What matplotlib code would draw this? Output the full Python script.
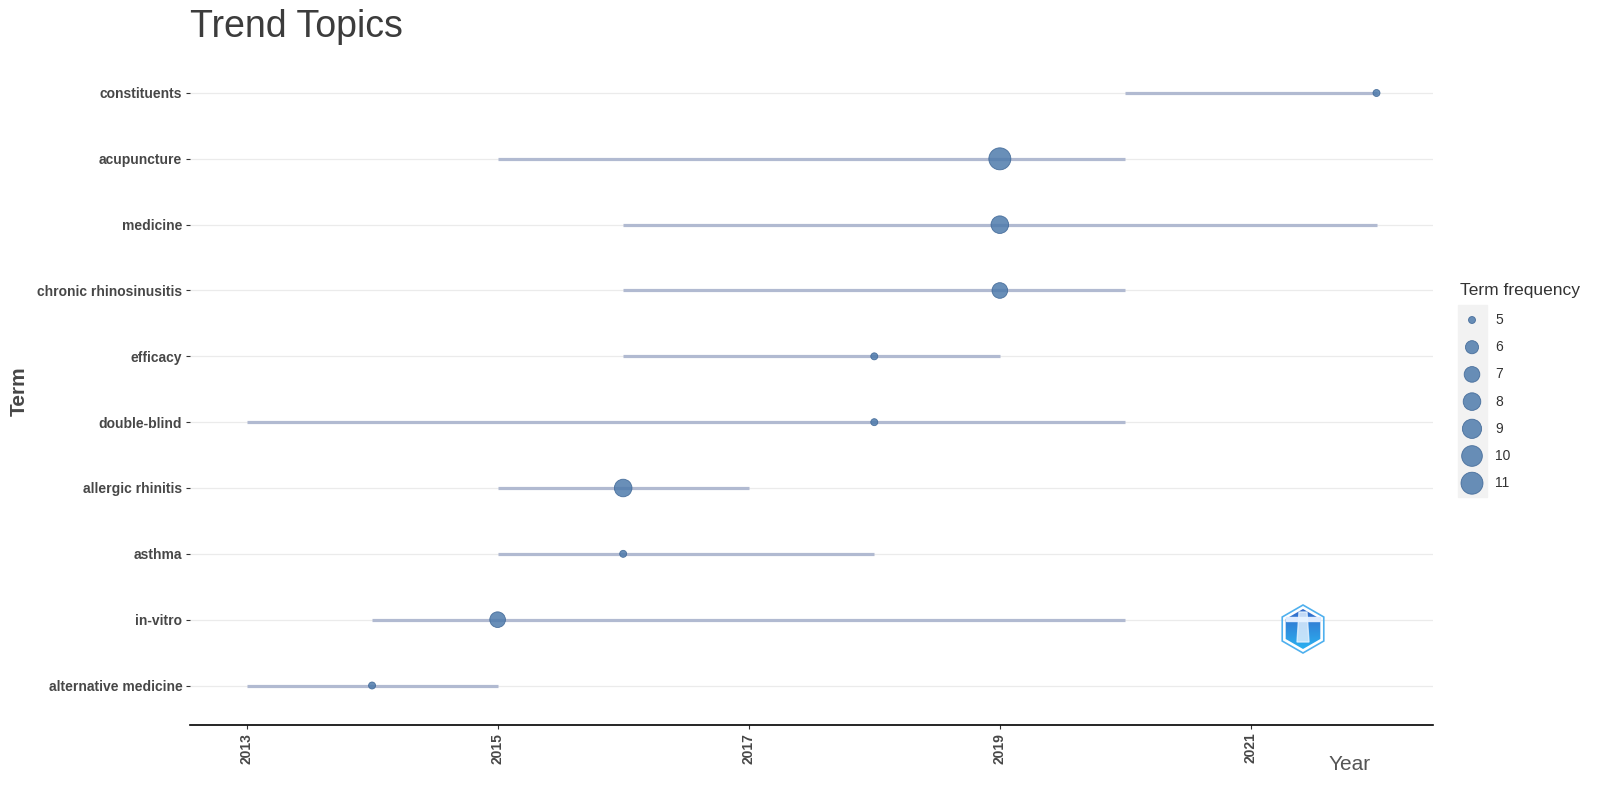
import matplotlib.pyplot as plt
import matplotlib.patches as pt
import numpy as np

plt.rcParams["font.family"] = ["Liberation Sans", "DejaVu Sans"]

# data
terms = ["alternative medicine", "in-vitro", "asthma", "allergic rhinitis",
         "double-blind", "efficacy", "chronic rhinosinusitis", "medicine",
         "acupuncture", "constituents"]
year_q1 = [2013, 2014, 2015, 2015, 2013, 2016, 2016, 2016, 2015, 2020]
year_med = [2014, 2015, 2016, 2016, 2018, 2018, 2019, 2019, 2019, 2022]
year_q3 = [2015, 2020, 2018, 2017, 2020, 2019, 2020, 2022, 2020, 2022]
freq = [5, 7, 5, 8, 5, 5, 7, 8, 11, 5]
legend_vals = [5, 6, 7, 8, 9, 10, 11]
xticks = [2013, 2015, 2017, 2019, 2021]

DPI = 100
LINE_COL = "#B1BAD1"
PT_COL = "#4F7BAC"
PT_EDGE = "#3B6494"
TXT = "#474747"


def size_pts(v):
    # ggplot-like area scale: diameter 7..22 px for freq 5..11
    d_px = 7 + np.sqrt((np.asarray(v, float) - 5) / 6.0) * 15
    return (d_px * 72.0 / DPI) ** 2


fig = plt.figure(figsize=(16, 8), dpi=DPI)
ax = fig.add_axes([190 / 1600, 75 / 800, (1433 - 190) / 1600, (746.5 - 75) / 800])

y = np.arange(len(terms))
for yy in y:
    ax.axhline(yy, color="#EBEBEB", lw=0.9, zorder=0)
ax.hlines(y, year_q1, year_q3, color=LINE_COL, lw=2.3, zorder=2)
ax.scatter(year_med, y, s=size_pts(freq), color=PT_COL, alpha=0.85,
           edgecolor=PT_EDGE, linewidth=0.6, zorder=3)

ax.set_xlim(2012.55, 2022.45)
ax.set_ylim(-0.6, len(terms) - 0.4)
ax.set_yticks(y)
ax.set_yticklabels(terms, fontsize=10, fontweight="bold", color=TXT)
ax.set_xticks(xticks)
ax.set_xticklabels([str(t) for t in xticks], rotation=90, fontsize=10,
                   fontweight="bold", color=TXT)
ax.tick_params(axis="both", length=3, width=0.8, color="#333333", pad=2.5)
for s in ["top", "right", "left"]:
    ax.spines[s].set_visible(False)
ax.spines["bottom"].set_color("black")
ax.spines["bottom"].set_linewidth(1.2)

fig.text(190 / 1600, 1 - 37 / 800, "Trend Topics", fontsize=27, color="#3C3C3C",
         ha="left", va="baseline")
fig.text(19 / 1600, 1 - 391 / 800, "Term", fontsize=15, fontweight="bold",
         color=TXT, rotation=90, ha="center", va="center")
fig.text(1350 / 1600, 1 - 764 / 800, "Year", fontsize=15, color="#555555",
         ha="center", va="center")

# legend drawn in its own pixel-space axes
lax = fig.add_axes([0, 0, 1, 1], facecolor="none")
lax.set_xlim(0, 1600)
lax.set_ylim(800, 0)
lax.axis("off")
lax.add_patch(pt.Rectangle((1458, 305), 29, 192, color="#F2F2F2", zorder=0))
lax.text(1460, 291, "Term frequency", fontsize=12.5, color="#333333",
         ha="left", va="center")
leg_y = 320 + np.arange(len(legend_vals)) * 27.2
lax.scatter([1472] * len(legend_vals), leg_y, s=size_pts(legend_vals),
            color=PT_COL, alpha=0.85, edgecolor=PT_EDGE, linewidth=0.6, zorder=2)
for v, yy in zip(legend_vals, leg_y):
    lax.text(1495, yy, str(v), fontsize=10, color="#333333", ha="left", va="center")

# small hexagon logo
lax.add_patch(pt.RegularPolygon((1303, 629), 6, radius=24, orientation=0,
                                facecolor="none", edgecolor="#4FB0EE", lw=1.2, zorder=3))
hexin = pt.RegularPolygon((1303, 629), 6, radius=20, orientation=0,
                          facecolor="none", edgecolor="none", zorder=3)
lax.add_patch(hexin)
grad = np.linspace(0, 1, 50).reshape(-1, 1)
im = lax.imshow(grad, cmap=plt.matplotlib.colors.LinearSegmentedColormap.from_list(
    "g", ["#3566C8", "#2AB4F2"]), extent=(1280, 1326, 651, 607), aspect="auto", zorder=2)
im.set_clip_path(hexin)
lax.add_patch(pt.Rectangle((1286, 617), 34, 4, color="#DDEBFF", zorder=4))
lax.add_patch(pt.Polygon([(1299, 612), (1307, 612), (1309, 642), (1297, 642)],
                         closed=True, color="#E8F4FF", alpha=0.8, zorder=4))
lax.set_xlim(0, 1600)
lax.set_ylim(800, 0)

fig.savefig("out.png", dpi=DPI)
